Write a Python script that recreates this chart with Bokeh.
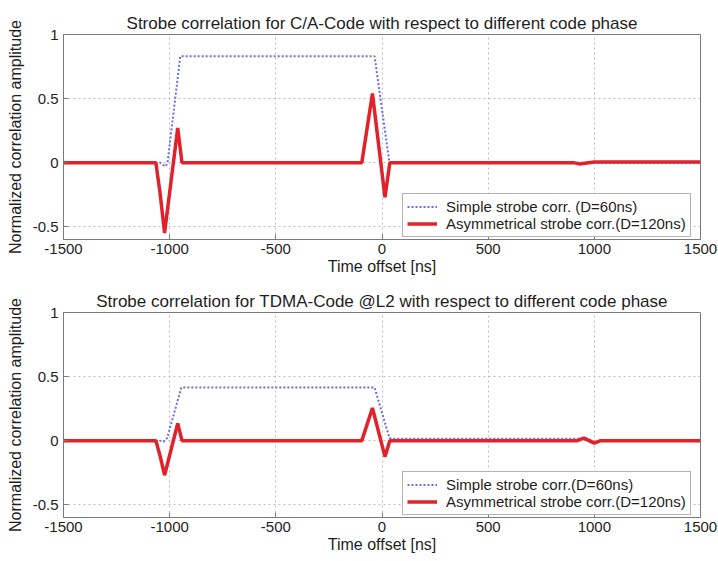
from bokeh.plotting import figure
from bokeh.layouts import column
from bokeh.models import Legend, LegendItem, FixedTicker
from bokeh.embed import file_html
from bokeh.resources import INLINE

# ---- data (time offset in ns, normalized amplitude) ----
x_ticks = [-1500, -1000, -500, 0, 500, 1000, 1500]
x_tick_labels = ["-1500", "-1000", "-500", "0", "500", "1000", "1500"]
y_ticks = [-0.5, 0, 0.5, 1]
y_tick_labels = ["-0.5", "0", "0.5", "1"]

# C/A-Code, simple strobe correlation (D=60ns)
ca_simple_x = [-1500, -1045, -1030, -1020, -1010, -950, -35, 35, 1500]
ca_simple_y = [0.0, 0.0, -0.02, -0.03, 0.0, 0.83, 0.83, 0.0, 0.0]

# C/A-Code, asymmetrical strobe correlation (D=120ns)
ca_asym_x = [-1500, -1065, -1045, -1024, -962, -942, -95, -45, 14, 37, 900, 930, 1000, 1500]
ca_asym_y = [0.0, 0.0, -0.24, -0.55, 0.27, 0.0, 0.0, 0.54, -0.27, 0.0, 0.0, -0.01, 0.005, 0.005]

# TDMA-Code @L2, simple strobe correlation (D=60ns)
l2_simple_x = [-1500, -1045, -1030, -1012, -945, -35, 35, 45, 920, 950, 970, 1000, 1025, 1500]
l2_simple_y = [0.0, 0.0, -0.01, 0.02, 0.415, 0.415, 0.02, 0.015, 0.015, 0.02, 0.015, -0.01, 0.0, 0.0]

# TDMA-Code @L2, asymmetrical strobe correlation (D=120ns)
l2_asym_x = [-1500, -1065, -1045, -1024, -962, -942, -95, -45, 14, 37, 920, 950, 975, 1000, 1030, 1500]
l2_asym_y = [0.0, 0.0, -0.12, -0.27, 0.135, 0.0, 0.0, 0.255, -0.125, 0.0, 0.0, 0.02, 0.0, -0.02, 0.0, 0.0]

titles = ["Strobe correlation for C/A-Code with respect to different code phase",
          "Strobe correlation for TDMA-Code @L2 with respect to different code phase"]
simple_labels = ["Simple strobe corr. (D=60ns)", "Simple strobe corr.(D=60ns)"]
asym_label = "Asymmetrical strobe corr.(D=120ns)"
x_label = "Time offset [ns]"
y_label = "Normalized correlation amplitude"

FONT = "Liberation Sans"
BLUE = "#6c6ce4"
RED = "#e0222b"
TEXT = "#1e1e1e"


def make_plot(title, sx, sy, ax, ay, slabel, top_border, bottom_border, height):
    p = figure(width=718, height=height, output_backend="svg", toolbar_location=None,
               x_range=(-1500, 1500), y_range=(-0.6, 1.0),
               frame_width=637, frame_height=205,
               min_border_left=63, min_border_right=18,
               min_border_top=top_border, min_border_bottom=bottom_border,
               title=title)
    p.title.text_font = FONT
    p.title.text_font_size = "17px"
    p.title.text_font_style = "normal"
    p.title.align = "center"
    p.title.text_color = TEXT
    p.title.standoff = 3

    p.outline_line_color = "#7a7a7a"
    p.outline_line_width = 1

    for ax_ in (p.xaxis[0], p.yaxis[0]):
        ax_.major_label_text_font = FONT
        ax_.major_label_text_font_size = "15px"
        ax_.major_label_text_color = TEXT
        ax_.axis_label_text_font = FONT
        ax_.axis_label_text_font_size = "16px"
        ax_.axis_label_text_font_style = "normal"
        ax_.axis_label_text_color = TEXT
        ax_.axis_line_color = "#7a7a7a"
        ax_.major_tick_line_color = "#7a7a7a"
        ax_.major_tick_in = 5
        ax_.major_tick_out = 0
        ax_.minor_tick_line_color = None
    p.xaxis.ticker = FixedTicker(ticks=x_ticks)
    p.yaxis.ticker = FixedTicker(ticks=y_ticks)
    p.xaxis.major_label_overrides = dict(zip(x_ticks, x_tick_labels))
    p.yaxis.major_label_overrides = dict(zip(y_ticks, y_tick_labels))
    p.xaxis.axis_label = x_label
    p.yaxis.axis_label = y_label
    p.xaxis.major_label_standoff = 4
    p.xaxis.axis_label_standoff = 1
    p.yaxis.major_label_standoff = 5
    p.yaxis.axis_label_standoff = 6

    p.xgrid.ticker = FixedTicker(ticks=x_ticks)
    p.ygrid.ticker = FixedTicker(ticks=y_ticks)
    p.grid.grid_line_color = "#bdbdbd"
    p.grid.grid_line_dash = "2 3"
    p.grid.grid_line_width = 1

    r_s = p.line(sx, sy, line_color=BLUE, line_width=2, line_dash="2 2")
    r_a = p.line(ax, ay, line_color=RED, line_width=3.5)

    legend = Legend(items=[LegendItem(label=slabel, renderers=[r_s]),
                           LegendItem(label=asym_label, renderers=[r_a])],
                    location=(339, 2))
    legend.label_text_font = FONT
    legend.label_text_font_size = "15px"
    legend.label_text_color = TEXT
    legend.padding = 4
    legend.spacing = 0
    legend.margin = 0
    legend.label_height = 17
    legend.glyph_height = 17
    legend.glyph_width = 30
    legend.label_standoff = 9
    legend.border_line_color = "#6a6a6a"
    legend.border_line_width = 1
    legend.background_fill_alpha = 1.0
    p.add_layout(legend, "center")
    return p


p1 = make_plot(titles[0], ca_simple_x, ca_simple_y, ca_asym_x, ca_asym_y,
               simple_labels[0], 34, 41, 280)
p2 = make_plot(titles[1], l2_simple_x, l2_simple_y, l2_asym_x, l2_asym_y,
               simple_labels[1], 32, 44, 281)

layout = column(p1, p2, spacing=0)
open("out.html", "w").write(file_html(layout, INLINE))
